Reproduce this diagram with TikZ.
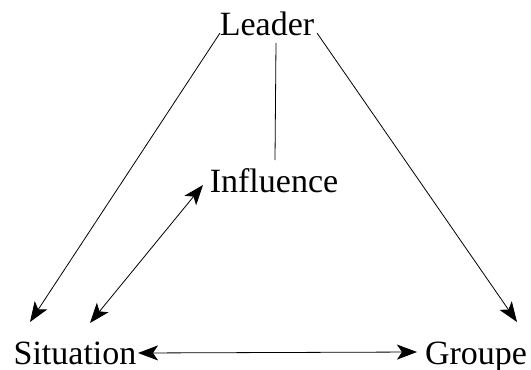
\documentclass[tikz,border=0pt]{standalone}
\usepackage{fontspec}
\setmainfont{Liberation Serif}
\usetikzlibrary{arrows.meta}
\begin{document}
\begin{tikzpicture}[x=1pt,y=-1pt,
  lbl/.style={font=\fontsize{34}{40}\selectfont, inner sep=0pt, anchor=base},
  conn/.style={line width=0.8pt, black},
  tip/.style={-{Stealth[length=20pt,width=15pt,inset=5pt]}},
  tips/.style={{Stealth[length=20pt,width=15pt,inset=5pt]}-{Stealth[length=20pt,width=15pt,inset=5pt]}}]
\useasboundingbox (0,0) rectangle (531,370);
\node[lbl] (leader) at (267,35) {Leader};
\node[lbl] (infl) at (274,192) {Influence};
\node[lbl] (sit) at (75,364) {Situation};
\node[lbl] (grp) at (476,364) {Groupe};
\coordinate (lL) at (220,33);
\coordinate (lR) at (317,33);
\coordinate (lV) at (276,43);
\coordinate (iV) at (275,160);
\coordinate (sA) at (30,322);
\coordinate (sB) at (90,323);
\coordinate (iB) at (203,185);
\coordinate (gA) at (517,322);
\coordinate (sR) at (138,353);
\coordinate (gL) at (417,352);
\draw[conn,tip] (lL) -- (sA);
\draw[conn,tip] (lR) -- (gA);
\draw[conn] (lV) -- (iV);
\draw[conn,tips] (sB) -- (iB);
\draw[conn,tips] (sR) -- (gL);
\end{tikzpicture}
\end{document}
